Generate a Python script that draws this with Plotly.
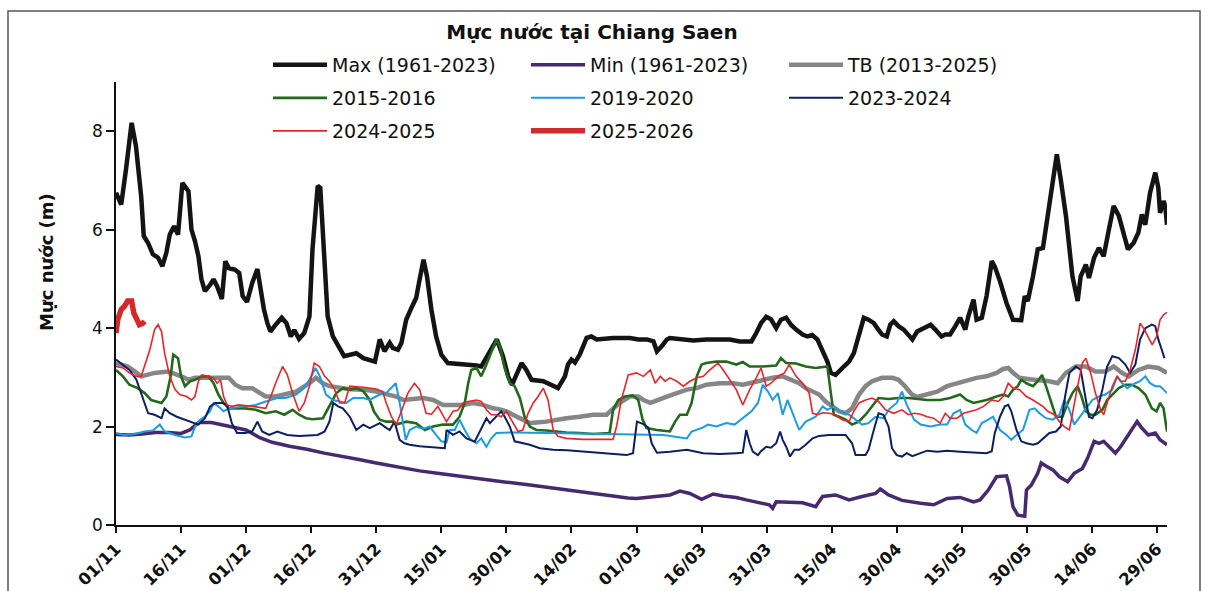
import plotly.graph_objects as go

# ---------------- data (day offset from 01/11, water level in m) ----------------
TICK_LABELS = ["01/11", "16/11", "01/12", "16/12", "31/12", "15/01", "30/01", "14/02",
               "01/03", "16/03", "31/03", "15/04", "30/04", "15/05", "30/05", "14/06", "29/06"]

MAX_DAY = [0, 1.2, 2.3, 3.6, 4.6, 5.8, 6.4, 7.4, 8.5, 9.7, 10.7, 11.6, 12.4, 13.4, 14.3, 15.3, 16.7, 17.4,
           18.2, 19, 19.7, 20.5, 21.7, 22.5, 23.3, 24.4, 25.2, 26, 26.7, 27.4, 28.4, 29.2, 30.2, 31.4, 32.6,
           33.3, 34.1, 34.9, 35.6, 36.8, 38.2, 39.3, 40.3, 41.1, 42.2, 43.4, 44.6, 45.3, 46.5, 47.1, 48,
           48.8, 50, 51.1, 52.6, 55.4, 57, 59.7, 60.8, 61.9, 63.1, 63.8, 65, 65.8, 66.9, 68.1, 69.2, 70,
           70.9, 71.7, 72.7, 73.8, 75, 76.5, 80.8, 83.1, 84.2, 85.4, 86.5, 87.8, 89.2, 90.4, 91.3, 92.3,
           93.5, 94.6, 95.8, 98.5, 100.8, 101.9, 103.5, 104.2, 105, 105.8, 106.9, 107.7, 108.5, 109.6,
           110.8, 114.6, 118.5, 120.4, 122.4, 123.9, 124.7, 125.8, 127, 127.7, 130, 133.1, 136.1, 139.2,
           141.5, 143.8, 146.5, 147.6, 148.7, 149.9, 151, 152.2, 153.3, 154.5, 155.6, 156.8, 158.3, 159.4,
           160.5, 161.7, 162.9, 164, 164.8, 165.9, 167.8, 169, 170.1, 171.3, 172.4, 173.5, 174.7, 175.5,
           176.6, 177.7, 178.5, 179.3, 180.4, 181.6, 182.7, 183.6, 184.7, 186.2, 187.8, 188.9, 190.3,
           191.2, 192.3, 193.5, 194.6, 195.8, 196.5, 197.7, 198.4, 199.6, 200.7, 201.9, 202.6, 203.8,
           205.3, 206.8, 208.7, 209.5, 210.2, 211.4, 212.5, 213.7, 214.4, 216, 216.9, 217.8, 219, 220.5,
           221.7, 222.4, 223.6, 224.3, 225.5, 226.6, 227.7, 228.9, 230, 231.2, 232.3, 233.3, 234.6, 235.7,
           236.5, 237.3, 238.4, 239.6, 240.3, 240.7, 241.5, 241.9, 242.3]
MAX_VAL = [6.75, 6.51, 7.22, 8.17, 7.7, 6.68, 5.87, 5.73, 5.5, 5.43, 5.26, 5.53, 5.9, 6.07, 5.9, 6.95, 6.78, 6.0,
           5.77, 5.46, 4.99, 4.75, 4.88, 4.99, 4.85, 4.59, 5.36, 5.22, 5.2, 5.19, 5.12, 4.65, 4.53, 4.92, 5.2,
           4.78, 4.38, 4.1, 3.93, 4.07, 4.21, 4.1, 3.83, 3.96, 3.78, 3.9, 4.24, 5.6, 6.89, 6.85, 5.53,
           4.24, 3.83, 3.66, 3.43, 3.49, 3.39, 3.32, 3.77, 3.53, 3.7, 3.6, 3.56, 3.7, 4.17, 4.41, 4.61, 4.99,
           5.39, 5.05, 4.38, 3.83, 3.46, 3.29, 3.27, 3.24, 3.22, 3.39, 3.58, 3.77, 3.43, 3.02, 2.85, 3.05,
           3.29, 3.15, 2.95, 2.92, 2.82, 2.78, 3.02, 3.26, 3.36, 3.3, 3.46, 3.66, 3.8, 3.83,
           3.77, 3.8, 3.8, 3.77, 3.77, 3.73, 3.53, 3.63, 3.77, 3.8, 3.78, 3.75, 3.77, 3.78,
           3.77, 3.73, 3.73, 3.9, 4.1, 4.23, 4.18, 4.0, 4.17, 4.21, 4.07, 3.97, 3.87, 3.83,
           3.86, 3.77, 3.56, 3.32, 3.09, 3.05, 3.22, 3.32, 3.49, 3.83, 4.21, 4.17, 4.1, 4.0,
           3.87, 3.83, 4.07, 4.14, 4.04, 3.97, 3.87, 3.77, 3.93, 4.0, 4.07, 3.97, 3.83,
           3.87, 3.87, 4.04, 4.21, 3.97, 4.24, 4.58, 4.17, 4.21, 4.65, 5.36, 5.25, 4.95,
           4.51, 4.17, 4.16, 4.65, 4.55, 5.05, 5.6, 5.63, 6.07, 7.09, 7.53, 7.02, 6.28, 5.05,
           4.55, 5.05, 5.29, 5.02, 5.43, 5.63, 5.46, 6.0, 6.48, 6.28, 5.9, 5.6, 5.73, 5.94,
           6.31, 6.1, 6.75, 7.16, 6.85, 6.34, 6.58, 6.48, 6.1]

MIN_DAY = [0, 3, 6, 9, 12, 15, 17, 19, 22, 25, 28, 30, 33, 36, 40, 44, 48, 52, 56, 60, 65, 70, 75, 80, 85,
           90, 95, 100, 105, 110, 115, 118, 120, 122, 124.7, 127.7, 130, 132.3, 135, 137.7, 140, 143,
           145.3, 148.4, 150.6, 151.4, 152.2, 155.2, 158.3, 161.3, 162.9, 165.9, 169, 172, 175.1, 176.2,
           178.1, 181.2, 184.2, 185.5, 188.5, 191.6, 194.6, 197.7, 199.2, 201.1, 203, 205.3, 206, 206.8,
           207.9, 209.5, 209.9, 211, 212.5, 213.3, 214.4, 216, 217.5, 219.4, 220.9, 222.8, 224, 225.5,
           226.6, 227.7, 229.3, 230.4, 231.6, 233.1, 234.6, 235.4, 236.5, 238, 239.6, 240.7, 242.3]
MIN_VAL = [1.84, 1.83, 1.85, 1.88, 1.88, 1.86, 1.93, 2.08, 2.08, 2.03, 1.97, 1.93, 1.78, 1.68, 1.6, 1.54, 1.46,
           1.4, 1.33, 1.26, 1.18, 1.1, 1.04, 0.98, 0.93, 0.87, 0.82, 0.76, 0.7, 0.63, 0.57, 0.55, 0.54, 0.56,
           0.58, 0.61, 0.69, 0.64, 0.52, 0.63, 0.59, 0.56, 0.51, 0.45, 0.41, 0.34, 0.47, 0.46, 0.45, 0.37,
           0.58, 0.61, 0.51, 0.58, 0.64, 0.73, 0.61, 0.5, 0.45, 0.44, 0.41, 0.54, 0.56, 0.47, 0.51, 0.71,
           0.98, 1.0, 0.78, 0.37, 0.2, 0.18, 0.71, 0.81, 1.05, 1.26, 1.2, 1.12, 0.98, 0.88, 1.05, 1.15,
           1.36, 1.7, 1.66, 1.7, 1.56, 1.46, 1.59, 1.8, 2.0, 2.1, 1.97, 1.83, 1.87, 1.73, 1.63]

TB_DAY = [0, 2.7, 4.3, 5.8, 8.9, 12, 15.1, 16.7, 18.2, 26, 27.5, 29.1, 31.4, 32.9, 34.5, 36.8, 41.5, 44.6,
          46.1, 47.7, 49.2, 53.9, 57, 60, 64.6, 66.2, 70.8, 73.1, 75.4, 80, 82.3, 84.6, 86.9, 88.5, 90,
          91.5, 93.8, 95.4, 99.2, 101.5, 103.8, 106.9, 110, 113.1, 116.2, 118.5, 120.4, 121.6, 123.2,
          127, 129.3, 131.6, 133.9, 136.1, 139.2, 142.3, 144.5, 149.1, 151.4, 153.7, 157.5, 159, 162.1,
          163.6, 165.2, 166.7, 168.2, 169.7, 171.3, 172.8, 174.3, 176.6, 179, 180.4, 181.9, 183.5, 184.7,
          187, 189.3, 191.6, 193.9, 196.1, 198.4, 200.7, 203, 204.5, 205.7, 206.8, 208.3, 210.6, 212.9,
          215.2, 217.1, 219, 221.3, 223.6, 225.8, 228.1, 230, 231.9, 233.5, 235.7, 238, 240.3, 242.3]
TB_VAL = [3.29, 3.22, 3.12, 3.02, 3.09, 3.12, 3.02, 2.95, 2.99, 2.99, 2.85, 2.78, 2.78, 2.71, 2.61, 2.61, 2.71,
          2.88, 2.99, 2.88, 2.82, 2.76, 2.75, 2.71, 2.61, 2.54, 2.58, 2.54, 2.44, 2.44, 2.48, 2.44, 2.37,
          2.35, 2.31, 2.24, 2.14, 2.07, 2.1, 2.14, 2.17, 2.2, 2.24, 2.24, 2.49, 2.61, 2.61, 2.54, 2.48,
          2.61, 2.68, 2.75, 2.78, 2.85, 2.88, 2.88, 2.85, 2.95, 2.99, 3.02, 2.88, 2.78, 2.65, 2.51, 2.41,
          2.31, 2.27, 2.37, 2.65, 2.82, 2.92, 2.99, 2.99, 2.95, 2.82, 2.65, 2.6, 2.65, 2.71, 2.82, 2.88,
          2.94, 2.99, 3.02, 3.09, 3.17, 3.19, 3.09, 2.99, 2.96, 2.94, 2.92, 2.88, 3.09, 3.22, 3.22, 3.12,
          3.12, 3.22, 3.09, 3.02, 3.15, 3.22, 3.19, 3.09]

Y2015_DAY = [0, 1.6, 3.1, 5, 6.6, 8.1, 10.5, 11.6, 12.6, 13.2, 14.3, 15, 15.9, 17.1, 18.2, 19.8, 21.3, 22.5,
             23.6, 24.8, 26, 29.8, 32.2, 34.5, 36.8, 38.8, 40.7, 42.2, 43.8, 45.3, 47.7, 49.2, 50.8, 52.3,
             53.9, 55.4, 57, 58.5, 59.5, 60.8, 62.3, 63.8, 64.6, 66.9, 69.2, 71.2, 73.1, 75.4, 77.7, 79.2,
             80.4, 81.2, 81.9, 83.1, 84.2, 85.4, 86.5, 87.7, 88.5, 89.6, 90.8, 91.9, 93.1, 94.2, 95.4, 96.9,
             99.2, 101.5, 103.8, 106.9, 110, 113.8, 114.6, 115.8, 117.3, 119.2, 120.4, 121.4, 122.3, 124.7,
             126.2, 127.7, 128.9, 130, 131.6, 132.7, 133.9, 135, 136.1, 138.4, 140.7, 143, 144.5, 146.1,
             149.1, 152.2, 153.3, 154.5, 156.8, 159, 161.3, 164, 164.8, 165.5, 166.7, 168.2, 169.7, 171.2,
             172.8, 174.3, 175.8, 178.1, 180.4, 182.7, 187, 190, 192.3, 194.6, 196.1, 197.7, 200.7, 203,
             204.5, 205.7, 206.8, 207.9, 208.7, 209.9, 211.4, 212.5, 213.5, 214.4, 215.6, 216.7, 218.2,
             219.4, 220.5, 221.7, 222.6, 223.6, 224.7, 225.8, 227.4, 228.5, 229.7, 231.2, 232.7, 234.2,
             235.7, 237.3, 238.8, 239.9, 240.7, 241.5, 242.3]
Y2015_VAL = [3.15, 3.02, 2.85, 2.78, 2.68, 2.54, 2.48, 2.61, 3.02, 3.46, 3.39, 3.02, 2.82, 2.92, 2.95, 3.02,
             3.02, 2.88, 2.65, 2.48, 2.37, 2.37, 2.34, 2.27, 2.31, 2.24, 2.34, 2.24, 2.17, 2.15, 2.17, 2.41,
             2.68, 2.78, 2.75, 2.78, 2.72, 2.54, 2.3, 2.14, 2.1, 2.1, 2.04, 2.1, 2.07, 1.93, 2.0, 2.04, 2.04,
             2.2, 2.48, 2.88, 3.15, 3.19, 3.02, 3.26, 3.49, 3.77, 3.63, 3.19, 2.88, 2.82, 2.58, 2.2, 2.0,
             1.93, 1.92, 1.9, 1.88, 1.87, 1.85, 1.87, 2.34, 2.54, 2.61, 2.63, 2.54, 2.14, 1.97, 1.93, 1.92,
             1.9, 2.1, 2.24, 2.24, 2.48, 3.02, 3.26, 3.29, 3.32, 3.32, 3.26, 3.31, 3.22, 3.22, 3.24, 3.39,
             3.29, 3.28, 3.22, 3.19, 3.22, 2.68, 2.24, 2.2, 2.14, 2.04, 2.1, 2.24, 2.41, 2.58, 2.56, 2.58,
             2.58, 2.54, 2.54, 2.58, 2.65, 2.54, 2.48, 2.54, 2.61, 2.65, 2.61, 2.75, 2.82, 2.95, 2.88, 2.82,
             2.92, 3.05, 2.82, 2.48, 2.2, 2.2, 2.48, 2.68, 2.82, 2.61, 2.31, 2.24, 2.24, 2.34, 2.54, 2.65,
             2.78, 2.85, 2.85, 2.78, 2.65, 2.37, 2.31, 2.48, 2.37, 1.9]

Y2019_DAY = [0, 1.9, 4.3, 6.6, 8.5, 10.1, 11.2, 13.6, 15.9, 17.4, 18.2, 19.4, 20.5, 21.7, 22.5, 23.6, 24.8,
             26, 29.8, 32.2, 34.5, 35.7, 37.2, 39.1, 41.5, 43, 44.6, 46, 47, 48.4, 50, 51.6, 53.1, 54.7, 57,
             58.5, 60.8, 62.3, 63.5, 64.5, 65.4, 66.2, 66.8, 67.7, 69.2, 70.8, 72.3, 73.8, 75, 76.2, 76.9,
             78.1, 79.2, 80.4, 81.5, 83.1, 84.2, 85.4, 86.5, 87.7, 91.5, 99.2, 111.5, 120.1, 126.2, 131.6,
             132.7, 135, 136.5, 138.4, 140.7, 142.6, 144.5, 146.5, 148, 149.1, 150.3, 151.4, 152.6, 153.7,
             154.8, 156, 157.5, 159, 161.3, 162.9, 164, 165.5, 167.1, 169, 170.5, 172, 173.5, 175.1, 177,
             178.1, 180, 181.2, 182.3, 184, 185.5, 187.8, 190, 191.6, 193.1, 194.6, 195.8, 197.3, 198.4,
             199.6, 201.1, 202.2, 203.8, 205.3, 206.4, 207.6, 209.1, 210.6, 211.8, 212.9, 214.4, 216, 217.5,
             218.6, 219.8, 220.9, 222, 223.6, 225.1, 226.6, 228.1, 229.7, 230.8, 232, 233.1, 235, 236.1,
             237.3, 238.4, 239.6, 240.7, 241.5, 242.3]
Y2019_VAL = [1.87, 1.83, 1.85, 1.9, 1.92, 2.04, 1.9, 1.83, 1.78, 1.8, 2.0, 2.14, 2.2, 2.31, 2.48, 2.41, 2.31,
             2.37, 2.41, 2.44, 2.51, 2.54, 2.58, 2.58, 2.65, 2.75, 2.95, 3.19, 3.02, 2.65, 2.54, 2.51, 2.48,
             2.58, 2.58, 2.54, 2.65, 2.68, 2.78, 2.88, 2.48, 2.0, 1.73, 1.93, 2.0, 1.95, 2.0, 1.83, 1.7,
             1.68, 1.93, 1.93, 2.14, 1.93, 1.76, 1.66, 1.76, 1.59, 1.76, 1.87, 1.88, 1.87, 1.85, 1.85, 1.83,
             1.76, 1.9, 1.97, 2.04, 2.0, 2.07, 2.04, 2.17, 2.31, 2.48, 2.85, 2.71, 2.54, 2.68, 2.24, 2.54,
             2.27, 1.93, 2.1, 2.2, 2.41, 2.34, 2.41, 2.31, 2.24, 2.14, 2.04, 2.07, 2.2, 2.17, 2.34, 2.48,
             2.71, 2.44, 2.14, 2.04, 2.0, 2.04, 2.04, 2.27, 2.34, 2.04, 1.93, 1.87, 2.07, 2.14, 2.2, 1.93,
             1.83, 1.73, 1.83, 1.93, 2.34, 2.37, 2.27, 2.17, 2.14, 2.24, 2.54, 2.34, 2.04, 2.17, 2.37, 2.54,
             2.61, 2.65, 2.75, 3.02, 2.88, 2.78, 2.88, 2.92, 3.02, 2.88, 2.82, 2.82, 2.75, 2.68]

Y2023_DAY = [0, 1.6, 3.1, 4.7, 5.8, 6.6, 7.4, 8.9, 10.5, 11.2, 12.4, 14, 15.9, 17.4, 19, 20.5, 21.7, 22.9,
             24.4, 25.6, 26.7, 27.9, 29.8, 31.4, 32.6, 33.7, 35.3, 37.2, 39.5, 42.2, 46.5, 48.1, 49.2, 50.1,
             51.2, 52.3, 53.9, 55.4, 57, 58.5, 60.8, 61.9, 63.1, 64.2, 65.4, 66.5, 67.7, 70, 73, 75.8,
             76.2, 77.7, 79.2, 80.8, 82.7, 85.4, 86.2, 88.8, 89.6, 90.8, 91.9, 93.8, 95.4, 97.7, 100.8,
             104, 107.7, 111.5, 117.7, 119.2, 119.6, 120.1, 121.6, 122.7, 123.5, 124.7, 127.7, 131.6, 135.4,
             139.2, 143, 144.5, 145.3, 146.1, 146.8, 148, 148.7, 149.9, 151, 152.2, 153.1, 153.7, 154.5,
             155.4, 156.4, 157.5, 159, 160.6, 162.1, 164.4, 167.4, 168.2, 169.7, 170.5, 172.8, 173.5, 174.7,
             175.8, 176.9, 178.1, 178.9, 180, 181.2, 182.3, 183.6, 185.5, 187, 189.3, 191.6, 194.6, 197.7,
             200.7, 201.9, 202.6, 203.8, 204.9, 205.7, 206.4, 207.6, 208.7, 209.9, 211.4, 212.5, 213.7,
             215.2, 216.7, 217.8, 218.8, 219.8, 221.3, 222.4, 223.6, 224.3, 225.1, 226.2, 227.4, 228.5,
             229.7, 231.2, 232.7, 233.8, 235, 236.1, 237.3, 238.8, 239.6, 240.3, 241.1, 241.7]
Y2023_VAL = [3.36, 3.26, 3.15, 2.95, 2.68, 2.48, 2.27, 2.24, 2.17, 2.37, 2.27, 2.2, 2.14, 2.1, 2.04, 2.17, 2.41,
             2.48, 2.48, 2.44, 2.07, 1.87, 1.87, 1.9, 2.1, 1.9, 1.83, 1.9, 1.83, 1.81, 1.83, 1.9, 2.1, 2.48,
             2.41, 2.37, 2.2, 1.93, 2.04, 1.97, 2.07, 2.0, 1.93, 2.1, 1.73, 1.66, 1.63, 1.6, 1.58, 1.56,
             1.93, 1.83, 1.9, 1.76, 1.69, 2.17, 2.07, 2.31, 2.2, 2.0, 1.7, 1.66, 1.63, 1.56, 1.53,
             1.52, 1.49, 1.46, 1.42, 1.46, 1.75, 2.1, 2.05, 1.98, 1.66, 1.47, 1.49, 1.53, 1.46,
             1.44, 1.46, 1.47, 1.93, 1.66, 1.49, 1.42, 1.5, 1.59, 1.57, 1.66, 1.9, 1.73, 1.59,
             1.39, 1.53, 1.53, 1.63, 1.76, 1.81, 1.83, 1.83, 1.83, 1.66, 1.42, 1.42, 1.53, 1.93,
             2.27, 2.24, 2.0, 1.56, 1.42, 1.39, 1.46, 1.4, 1.46, 1.51, 1.49, 1.51, 1.49, 1.47,
             1.46, 1.5, 1.87, 2.2, 2.41, 2.44, 2.31, 1.93, 1.7, 1.66, 1.63, 1.66, 1.76,
             1.87, 1.9, 2.0, 2.61, 3.09, 3.22, 3.15, 2.54, 2.2, 2.17, 2.34, 2.75, 3.22,
             3.43, 3.39, 3.26, 3.09, 3.26, 3.77, 4.0, 4.07, 4.04, 3.77, 3.56, 3.39]

Y2024_DAY = [0, 1.6, 3.1, 4.7, 5.8, 6.6, 7.8, 8.9, 9.7, 10.5, 11.2, 12.4, 13.6, 14.7, 16.3, 17.4, 18.2, 19,
             19.8, 21.3, 22.5, 23.3, 24.1, 24.8, 25.6, 26.7, 28.3, 31.4, 34.5, 35.7, 36.8, 38.4, 39.5, 40.7,
             42.2, 43.4, 44.6, 45.7, 46.9, 48.1, 49.2, 50.4, 51.6, 52.7, 53.9, 57, 60, 61.5, 62.3, 63.5,
             64.6, 65.8, 67.3, 68.8, 70, 71.5, 72.7, 74.2, 76.2, 77.7, 78.8, 80, 81.2, 83.1, 84.2, 85.4, 86.5,
             87.7, 88.8, 90, 91.2, 92.7, 93.8, 95, 96.2, 97.3, 98.5, 99.6, 100.8, 101.9, 103.8, 107.7, 114.6,
             115.4, 116.5, 118.1, 120, 121.6, 123.2, 124.3, 125.5, 126.6, 127.7, 129.3, 130.8, 132.3, 133.9,
             135.4, 136.9, 138.8, 140, 141.5, 143, 144.5, 146.1, 147.6, 148.7, 149.9, 151, 152.6, 154.1,
             155.2, 156.8, 158.3, 159.8, 160.6, 161.7, 162.9, 164.4, 165.9, 167.4, 169, 170.1, 171.3, 172.8,
             174.3, 175.8, 177.4, 179.3, 181.2, 182.7, 184, 185.5, 187, 188.5, 190, 191.2, 192.3, 193.9,
             195.4, 196.9, 198.4, 200, 201.9, 203.4, 204.5, 205.7, 206.8, 208.3, 209.9, 211.4, 212.5, 213.7,
             214.8, 216.4, 217.5, 218.6, 219.8, 220.5, 221.7, 222.8, 223.6, 224.7, 225.8, 227, 227.7, 228.5,
             229.7, 230.8, 231.6, 232.7, 233.8, 235, 236.1, 237.1, 238, 238.9, 239.9, 240.7, 241.5, 242.3]
Y2024_VAL = [3.22, 3.19, 3.09, 3.02, 3.02, 3.22, 3.56, 3.97, 4.07, 3.93, 3.49, 3.02, 2.75, 2.65, 2.61, 2.54, 2.61,
             2.92, 3.05, 3.02, 2.99, 2.88, 2.95, 2.61, 2.44, 2.41, 2.44, 2.41, 2.37, 2.61, 2.88, 3.22, 3.05,
             2.68, 2.31, 2.48, 2.82, 3.29, 3.22, 3.02, 2.92, 2.75, 2.48, 2.48, 2.82, 2.8, 2.76, 2.71, 2.48,
             2.2, 2.04, 2.31, 2.68, 2.88, 2.75, 2.27, 2.25, 2.41, 2.1, 2.31, 2.33, 2.48, 2.51, 2.54, 2.51,
             2.34, 2.24, 2.24, 2.2, 2.31, 2.14, 1.9, 1.93, 2.27, 2.48, 2.61, 2.78, 2.54, 1.93, 1.8, 1.76,
             1.74, 1.74, 2.0, 2.54, 3.05, 3.09, 3.02, 3.15, 2.88, 3.02, 2.92, 2.99, 2.92, 2.82, 2.92, 2.99,
             3.02, 3.15, 3.29, 3.15, 2.95, 2.75, 2.44, 2.75, 2.99, 3.19, 2.82, 2.88, 3.02, 3.09, 3.26, 3.02,
             2.88, 2.68, 2.27, 2.24, 2.28, 2.27, 2.24, 2.14, 2.1, 2.31, 2.48, 2.54, 2.58, 2.51, 2.34, 2.27,
             2.34, 2.24, 2.27, 2.25, 2.2, 2.17, 2.07, 2.27, 2.17, 2.17, 2.27, 2.31, 2.34, 2.41, 2.54, 2.51,
             2.61, 2.88, 2.78, 2.75, 2.61, 2.54, 2.48, 2.41, 2.31, 2.24, 2.1, 2.0, 1.93, 2.27, 2.82, 3.29,
             3.39, 3.09, 2.68, 2.34, 2.24, 2.48, 2.82, 3.02, 2.92, 2.92, 3.15, 3.56, 4.1, 3.97, 3.83, 3.66,
             3.83, 4.17, 4.27, 4.32]

Y2025_DAY = [0, 0.4, 1.2, 1.9, 2.7, 3.6, 4.1, 4.7, 5.4, 6.2, 6.6]
Y2025_VAL = [3.9, 4.17, 4.38, 4.44, 4.55, 4.55, 4.31, 4.17, 4.07, 4.1, 4.14]

SERIES = [
    ("Max (1961-2023)", MAX_DAY, MAX_VAL, "#141414", 4.5, "legend"),
    ("Min (1961-2023)", MIN_DAY, MIN_VAL, "#46296e", 3.5, "legend"),
    ("TB (2013-2025)", TB_DAY, TB_VAL, "#868686", 4.5, "legend"),
    ("2015-2016", Y2015_DAY, Y2015_VAL, "#23691c", 2.6, "legend2"),
    ("2019-2020", Y2019_DAY, Y2019_VAL, "#1b9be3", 2.0, "legend2"),
    ("2023-2024", Y2023_DAY, Y2023_VAL, "#0c1f5e", 2.0, "legend2"),
    ("2024-2025", Y2024_DAY, Y2024_VAL, "#e8242b", 1.6, "legend3"),
    ("2025-2026", Y2025_DAY, Y2025_VAL, "#d4292b", 5.5, "legend3"),
]

FONT = "DejaVu Sans"

fig = go.Figure()
for name, xs, ys, color, width, leg in SERIES:
    fig.add_trace(go.Scatter(x=xs, y=ys, mode="lines", name=name,
                             line=dict(color=color, width=width), legend=leg))

W, H = 1209, 591
L, R, T, B = 116, 42, 82, 66

def px2paper_x(px):
    return (px - L) / (W - L - R)

def px2paper_y(py):
    return (H - B - py) / (H - T - B)

leg_common = dict(orientation="h", entrywidth=189, entrywidthmode="pixels", itemwidth=54,
                  xanchor="left", yanchor="middle", bgcolor="rgba(0,0,0,0)",
                  font=dict(family=FONT, size=19, color="#111111"), traceorder="normal")

fig.update_layout(
    width=W, height=H,
    margin=dict(l=L, r=R, t=T, b=B, autoexpand=False),
    paper_bgcolor="white", plot_bgcolor="white",
    title=dict(text="Mực nước tại Chiang Saen", x=592 / W, xanchor="center",
               y=1 - 32 / H, yanchor="middle",
               font=dict(family=FONT, size=20, color="#111111", weight="bold")),
    legend=dict(x=px2paper_x(268), y=px2paper_y(65), **leg_common),
    legend2=dict(x=px2paper_x(268), y=px2paper_y(98), **leg_common),
    legend3=dict(x=px2paper_x(268), y=px2paper_y(131), **leg_common),
    xaxis=dict(range=[0, 242.3], tickmode="array", tickvals=[15 * i for i in range(len(TICK_LABELS))],
               ticktext=TICK_LABELS, tickangle=-45, ticks="outside", ticklen=6, tickwidth=1.5,
               tickcolor="#111111", showline=True, linecolor="#111111", linewidth=1.5,
               showgrid=False, zeroline=False, automargin=False,
               tickfont=dict(family=FONT, size=16.5, color="#111111", weight="bold")),
    yaxis=dict(range=[0, 9], tickvals=[0, 2, 4, 6, 8], ticks="outside", ticklen=8, tickwidth=1.5,
               tickcolor="#111111", showline=True, linecolor="#111111", linewidth=1.5,
               showgrid=False, zeroline=False, automargin=False,
               tickfont=dict(family=FONT, size=17, color="#111111")),
    annotations=[dict(text="Mực nước (m)", textangle=-90, xref="paper", yref="paper",
                      x=px2paper_x(46), y=px2paper_y(262), xanchor="center", yanchor="middle",
                      showarrow=False,
                      font=dict(family=FONT, size=18, color="#111111", weight="bold"))],
    shapes=[dict(type="rect", xref="paper", yref="paper",
                 x0=px2paper_x(8), x1=px2paper_x(1200), y0=px2paper_y(600), y1=px2paper_y(11),
                 line=dict(color="#555555", width=1.5), fillcolor="rgba(0,0,0,0)", layer="below")],
)

fig.write_html("out.html")
